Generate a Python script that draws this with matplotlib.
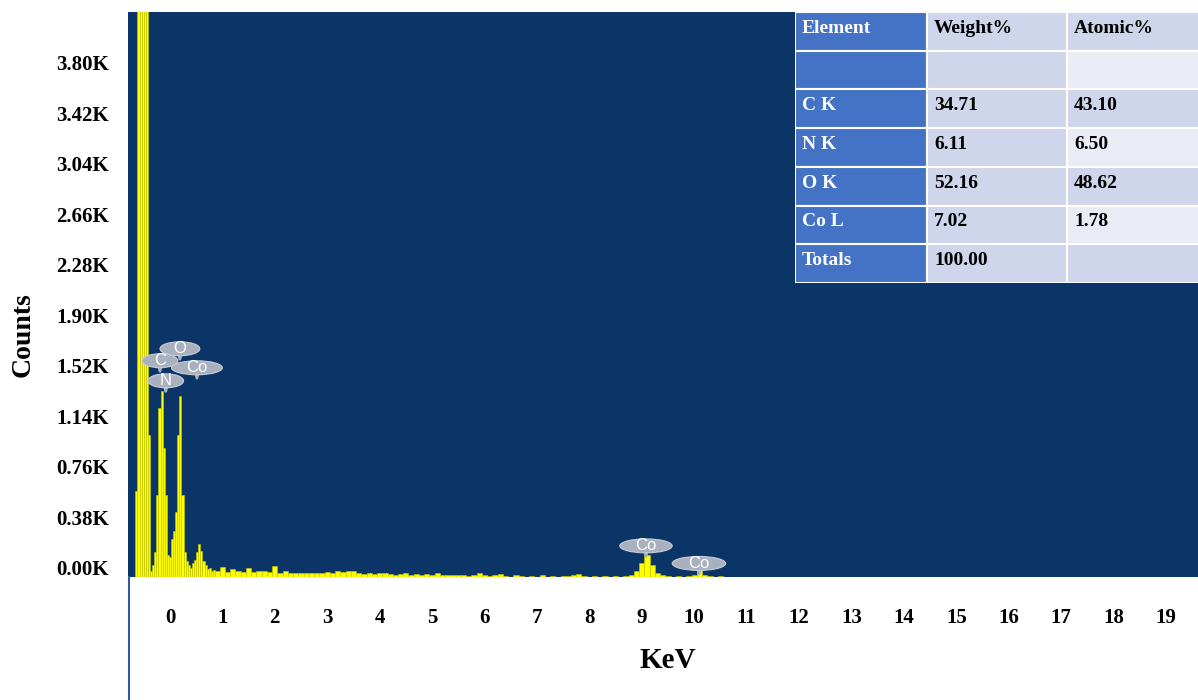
import matplotlib
matplotlib.use('Agg')
import numpy as np
import matplotlib.pyplot as plt
from matplotlib.patches import Ellipse, Rectangle, Polygon
from matplotlib.lines import Line2D

# --- spectrum data (energy in keV, counts in K) ---
# fine channels around the low-energy peaks
peak_energy = [-0.64, -0.60, -0.56, -0.52, -0.48, -0.44, -0.40, -0.36, -0.32, -0.28,
               -0.24, -0.20, -0.16, -0.12, -0.08, -0.04, 0.00, 0.04, 0.08, 0.12,
               0.16, 0.20, 0.24, 0.28, 0.32, 0.36, 0.40, 0.44, 0.48, 0.52,
               0.56, 0.60, 0.64, 0.68, 0.72, 0.76, 0.80, 0.84]
peak_counts = [0.58, 4.60, 4.60, 4.60, 4.60, 4.60, 1.00, -0.02, 0.02, 0.12,
               0.55, 1.20, 1.33, 0.90, 0.55, 0.10, 0.08, 0.22, 0.28, 0.42,
               1.00, 1.29, 0.55, 0.12, 0.05, 0.02, 0.00, 0.04, 0.06, 0.12,
               0.18, 0.13, 0.05, 0.02, -0.01, 0.00, -0.02, -0.015]

# coarse channels for the background, 0.9 .. 10.5 keV
bg_energy = [round(0.9 + 0.1 * i, 1) for i in range(97)]
bg_counts = [-0.020, 0.010, -0.030, -0.005, -0.025, -0.030, 0.000, -0.030, -0.025, -0.020,
             -0.030, 0.012, -0.040, -0.020, -0.035, -0.040, -0.035, -0.040, -0.035, -0.040,
             -0.040, -0.030, -0.040, -0.025, -0.030, -0.025, -0.020, -0.040, -0.045, -0.040,
             -0.045, -0.035, -0.040, -0.045, -0.050, -0.045, -0.040, -0.050, -0.045, -0.050,
             -0.045, -0.050, -0.040, -0.055, -0.050, -0.055, -0.050, -0.055, -0.060, -0.050,
             -0.040, -0.050, -0.060, -0.055, -0.045, -0.060, -0.065, -0.050, -0.060, -0.065,
             -0.060, -0.065, -0.055, -0.065, -0.060, -0.065, -0.060, -0.060, -0.055, -0.045,
             -0.060, -0.065, -0.060, -0.065, -0.060, -0.065, -0.060, -0.065, -0.060, -0.055,
             -0.020, 0.040, 0.100, 0.020, -0.040, -0.055, -0.060, -0.065, -0.060, -0.065,
             -0.060, -0.050, -0.015, -0.055, -0.060, -0.065, -0.060]

y_ticks = [0.00, 0.38, 0.76, 1.14, 1.52, 1.90, 2.28, 2.66, 3.04, 3.42, 3.80]
x_ticks = list(range(0, 20))

# peak labels: text, centre x (keV), centre y (K), bubble width (keV)
peak_labels = [('O', 0.19, 1.648, 0.76),
               ('C', -0.19, 1.558, 0.68),
               ('Co', 0.515, 1.505, 0.97),
               ('N', -0.08, 1.407, 0.68),
               ('Co', 9.08, 0.166, 1.00),
               ('Co', 10.09, 0.034, 1.02)]

# quantification table
elements = ['C K', 'N K', 'O K', 'Co L']
weight_pct = [34.71, 6.11, 52.16, 7.02]
atomic_pct = [43.10, 6.50, 48.62, 1.78]
weight_total = 100.00

# --- figure ---
W, H = 1198, 700
YMIN, YMAX = -0.068, 4.18
NAVY = '#0b3467'
YELLOW = '#ffff00'

plt.rcParams['font.family'] = ['Liberation Serif', 'DejaVu Serif']
plt.rcParams['font.weight'] = 'bold'

fig = plt.figure(figsize=(W / 100, H / 100), dpi=100)
ax = fig.add_axes([128 / W, 1 - 577 / H, (W - 128) / W, (577 - 12) / H])
ax.set_facecolor(NAVY)

ax.bar(peak_energy, np.array(peak_counts) - YMIN + 0.01, bottom=YMIN - 0.01, width=0.04,
       color=YELLOW, edgecolor='#c9c900', linewidth=0.4)
ax.bar(bg_energy, np.array(bg_counts) - YMIN + 0.01, bottom=YMIN - 0.01, width=0.1,
       color=YELLOW, edgecolor='#c9c900', linewidth=0.4)

ax.set_xlim(-0.80, 19.61)
ax.set_ylim(YMIN, YMAX)
ax.set_yticks(y_ticks)
ax.set_yticklabels([f'{v:.2f}K' for v in y_ticks])
ax.set_xticks(x_ticks)
ax.tick_params(axis='both', length=0, labelsize=15)
ax.tick_params(axis='x', pad=22)
ax.tick_params(axis='y', pad=14)
for s in ax.spines.values():
    s.set_visible(False)

# peak label bubbles
bh = 0.105
for lab, cx, cy, bw in peak_labels:
    stem = Polygon([(cx - 0.05, cy - bh / 2 + 0.01), (cx + 0.05, cy - bh / 2 + 0.01),
                    (cx + 0.02, cy - bh / 2 - 0.035), (cx - 0.02, cy - bh / 2 - 0.035)],
                   closed=True, facecolor='#a9b1bf', edgecolor='none', zorder=4)
    ax.add_patch(stem)
    ell = Ellipse((cx, cy), bw, bh, facecolor='#a9b1bf', edgecolor='#c7ccd6',
                  linewidth=0.8, zorder=5)
    ax.add_patch(ell)
    ax.text(cx, cy, lab, color='white', fontsize=12, fontweight='normal',
            family=['Liberation Sans', 'DejaVu Sans'], ha='center', va='center', zorder=6)

# axis titles
fig.text(23 / W, 1 - 335 / H, 'Counts', rotation=90, fontsize=20, ha='center', va='center')
fig.text(668 / W, 1 - 660 / H, 'KeV', fontsize=21, ha='center', va='center')

# left border line of the lower white panel
fig.add_artist(Line2D([128.5 / W, 128.5 / W], [0, 1 - 577 / H], color='#2e5c9a', lw=1.5))

# --- table ---
tx0, ty0, ty1 = 795, 12, 283
ax_t = fig.add_axes([tx0 / W, 1 - ty1 / H, (W - tx0) / W, (ty1 - ty0) / H])
ax_t.set_xlim(0, W - tx0)
ax_t.set_ylim(ty1 - ty0, 0)
ax_t.axis('off')

col_edges = [0, 132, 272, W - tx0 + 5]
n_rows = 7
rh = (ty1 - ty0) / n_rows
rows = [['Element', 'Weight%', 'Atomic%'], ['', '', '']]
for el, w, a in zip(elements, weight_pct, atomic_pct):
    rows.append([el, f'{w:.2f}', f'{a:.2f}'])
rows.append(['Totals', f'{weight_total:.2f}', ''])

for r in range(n_rows):
    for c in range(3):
        if c == 0:
            fc = '#4472c4'
        elif c == 1:
            fc = '#cfd5ea'
        else:
            fc = '#cfd5ea' if r % 2 == 0 else '#e9ebf5'
        x0, x1 = col_edges[c], col_edges[c + 1]
        ax_t.add_patch(Rectangle((x0, r * rh), x1 - x0, rh, facecolor=fc,
                                 edgecolor='white', linewidth=1.5))
        txt = rows[r][c]
        if txt:
            ax_t.text(x0 + 7, r * rh + rh / 2 - 3, txt, fontsize=14,
                      color='white' if c == 0 else 'black', ha='left', va='center')

fig.savefig('out.png', dpi=100)
